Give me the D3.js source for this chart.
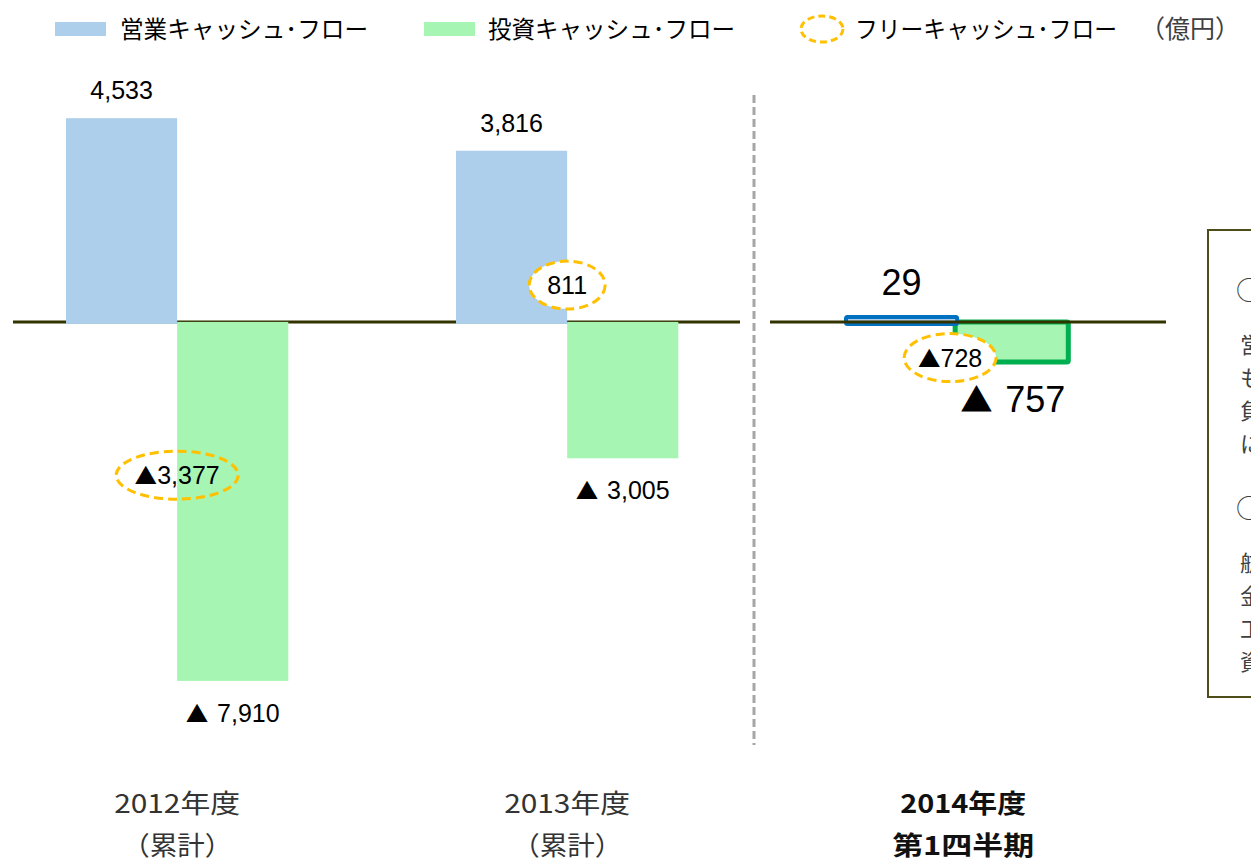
<!DOCTYPE html>
<html>
<head>
<meta charset="utf-8">
<script src="https://cdn.jsdelivr.net/npm/d3@7"></script>
<style>
  body { margin: 0; background: #fff; }
  svg { display: block; }
</style>
</head>
<body>
<svg id="chart"></svg>
<script>
// data (億円)
const periods = ['2012', '2013', '2014Q1'];
const periodLines = [['2012年度', '（累計）'], ['2013年度', '（累計）'], ['2014年度', '第1四半期']];
const operatingCF = [4533, 3816, 29];
const investingCF = [-7910, -3005, -757];
const freeCF = [-3377, 811, -728];
const seriesNames = ['営業キャッシュ･フロー', '投資キャッシュ･フロー', 'フリーキャッシュ･フロー'];
const unitLabel = '（億円）';
const noteLines = [
    ['○', '営業キャッシュ・フローは、前年同期比で減少', 'も、運転資金の増加などにより', '負担が増加したため、', 'に留まりました。'],
    ['○', '航空機への投資を中心に', '金融資産の取得などにより', '工場設備などへの', '資金を投じました。']
];

const W = 1251, H = 865;
const svg = d3.select('#chart').attr('width', W).attr('height', H);

const num = d3.format(',');

// scales: cumulative years share one scale, the quarter panel is magnified
const yLeft = d3.scaleLinear().domain([-8000, 5000]).range([685, 95]);
const yRight = d3.scaleLinear().domain([-8000, 5000]).range([746, 57]);
const yFor = i => (i < 2 ? yLeft : yRight);

const x = d3.scaleBand().domain(periods).range([-101.7, 1236]).padding(0.43);
const xs = d3.scaleBand().domain(['op', 'inv']).range([0, x.bandwidth()]);

const colors = { op: '#aecfeb', inv: '#a6f5b3', fcf: '#ffc000' };

// writes a value, with a CJK-sized ▲ for negatives
function valueText(sel, v, size, gap) {
    const neg = v < 0;
    if (neg) {
        sel.append('tspan')
            .attr('font-family', '"Noto Sans CJK JP", sans-serif')
            .attr('font-size', size * 0.9)
            .text('▲');
    }
    sel.append('tspan').attr('dx', neg && gap ? size * 0.35 : 0).text(num(Math.abs(v)));
    return sel;
}

// zero line, left panel
svg.append('line').attr('x1', 13).attr('x2', 740)
    .attr('y1', yLeft(0)).attr('y2', yLeft(0))
    .attr('stroke', '#333300').attr('stroke-width', 3);

// divider
svg.append('line').attr('x1', 754).attr('x2', 754).attr('y1', 95).attr('y2', 745)
    .attr('stroke', '#a6a6a6').attr('stroke-width', 3).attr('stroke-dasharray', '8,4');

const rows = periods.map((p, i) => ({ p, i, op: operatingCF[i], inv: investingCF[i], fcf: freeCF[i] }));

// bars (highlighted quarter: investing drawn first so the blue outline sits on top)
const bars = svg.append('g');
rows.forEach(d => {
    const y = yFor(d.i);
    const hl = d.i === 2;
    const order = hl ? [['inv', d.inv], ['op', d.op]] : [['op', d.op], ['inv', d.inv]];
    order.forEach(([k, v]) => {
        const h = Math.max(Math.abs(y(v) - y(0)), hl ? 7 : 0);
        bars.append('rect')
            .attr('x', x(d.p) + xs(k) + (hl && k === 'inv' ? -2 : 0))
            .attr('width', xs.bandwidth() + (hl && k === 'inv' ? 2 : 0))
            .attr('y', v >= 0 ? y(0) - h + 2 : y(0))
            .attr('height', h)
            .attr('fill', colors[k])
            .attr('stroke', hl ? (k === 'op' ? '#0070c0' : '#00b050') : 'none')
            .attr('stroke-width', hl ? (k === 'op' ? 4 : 5) : 0)
            .attr('rx', hl ? 1.5 : 0);
    });
});

// zero line, right panel
svg.append('line').attr('x1', 770).attr('x2', 1166)
    .attr('y1', yRight(0)).attr('y2', yRight(0))
    .attr('stroke', '#333300').attr('stroke-width', 3);

// value labels
const labels = svg.append('g').attr('font-family', '"Liberation Sans", Arial, sans-serif').attr('fill', '#000');
rows.forEach(d => {
    const y = yFor(d.i);
    const big = d.i === 2;
    const fs = big ? 36 : 25;
    valueText(labels.append('text')
        .attr('x', x(d.p) + xs('op') + xs.bandwidth() / 2)
        .attr('y', y(d.op) - (big ? 25 : 17))
        .attr('text-anchor', 'middle')
        .attr('font-size', fs), d.op, fs, true);
    valueText(labels.append('text')
        .attr('x', x(d.p) + xs('inv') + xs.bandwidth() / 2)
        .attr('y', y(d.inv) + (big ? 50 : 41))
        .attr('text-anchor', 'middle')
        .attr('font-size', fs), d.inv, fs, true);
});

// free cash flow ellipses
const fcfG = svg.append('g');
rows.forEach(d => {
    const y = yFor(d.i);
    const cx = x(d.p) + x.bandwidth() / 2 + (d.i === 2 ? -7 : 0);
    const rx = [61, 38, 46][d.i];
    fcfG.append('ellipse')
        .attr('cx', cx).attr('cy', y(d.fcf) - (d.i === 2 ? 3 : 0))
        .attr('rx', rx).attr('ry', 24)
        .attr('fill', d.i === 0 ? 'none' : '#fff')
        .attr('stroke', colors.fcf).attr('stroke-width', 3)
        .attr('stroke-dasharray', '9,5');
    valueText(fcfG.append('text')
        .attr('x', cx).attr('y', y(d.fcf) + 9 - (d.i === 2 ? 3 : 0))
        .attr('text-anchor', 'middle')
        .attr('font-family', '"Liberation Sans", Arial, sans-serif')
        .attr('font-size', 25), d.fcf, 25, false);
});

// category labels
const cat = svg.append('g').attr('font-family', '"Noto Sans CJK JP", sans-serif');
rows.forEach(d => {
    const cx = x(d.p) + x.bandwidth() / 2 + (d.i === 2 ? 6 : 0);
    periodLines[d.i].forEach((t, j) => {
        cat.append('text')
            .attr('x', cx).attr('y', 813 + j * 42)
            .attr('text-anchor', 'middle')
            .attr('font-size', 26)
            .attr('font-weight', d.i === 2 ? 'bold' : 'normal')
            .attr('fill', d.i === 2 ? '#111' : '#333')
            .attr('textLength', j === 0 ? 126 : (d.i === 2 ? 142 : 110))
            .attr('lengthAdjust', 'spacingAndGlyphs')
            .text(t);
    });
});

// legend
const leg = svg.append('g').attr('font-family', '"Noto Sans CJK JP", sans-serif').attr('font-size', 24).attr('fill', '#000');
leg.append('rect').attr('x', 55).attr('y', 22).attr('width', 51).attr('height', 14).attr('fill', colors.op);
leg.append('text').attr('x', 120).attr('y', 38).attr('textLength', 248).attr('lengthAdjust', 'spacingAndGlyphs').text(seriesNames[0]);
leg.append('rect').attr('x', 424).attr('y', 22).attr('width', 51).attr('height', 14).attr('fill', colors.inv);
leg.append('text').attr('x', 488).attr('y', 38).attr('textLength', 247).attr('lengthAdjust', 'spacingAndGlyphs').text(seriesNames[1]);
leg.append('ellipse').attr('cx', 822).attr('cy', 29).attr('rx', 21).attr('ry', 13)
    .attr('fill', 'none').attr('stroke', colors.fcf).attr('stroke-width', 3).attr('stroke-dasharray', '7,4');
leg.append('text').attr('x', 855).attr('y', 38).attr('textLength', 262).attr('lengthAdjust', 'spacingAndGlyphs').text(seriesNames[2]);
leg.append('text').attr('x', 1140).attr('y', 38).attr('fill', '#404040').attr('font-size', 25).text(unitLabel);

// note box (runs off the right edge, as in the source slide)
const note = svg.append('g').attr('font-family', '"Noto Sans CJK JP", sans-serif').attr('fill', '#404040');
note.append('rect').attr('x', 1208).attr('y', 230).attr('width', 120).attr('height', 467)
    .attr('fill', '#fff').attr('stroke', '#4d4d1a').attr('stroke-width', 2);
noteLines.forEach((block, b) => {
    const y0 = [300, 518][b];
    block.forEach((t, j) => {
        note.append('text')
            .attr('x', j === 0 ? 1236 : 1240)
            .attr('y', j === 0 ? y0 : y0 + 20 + j * 33)
            .attr('font-size', j === 0 ? 26 : 22)
            .text(t);
    });
});
</script>
</body>
</html>
